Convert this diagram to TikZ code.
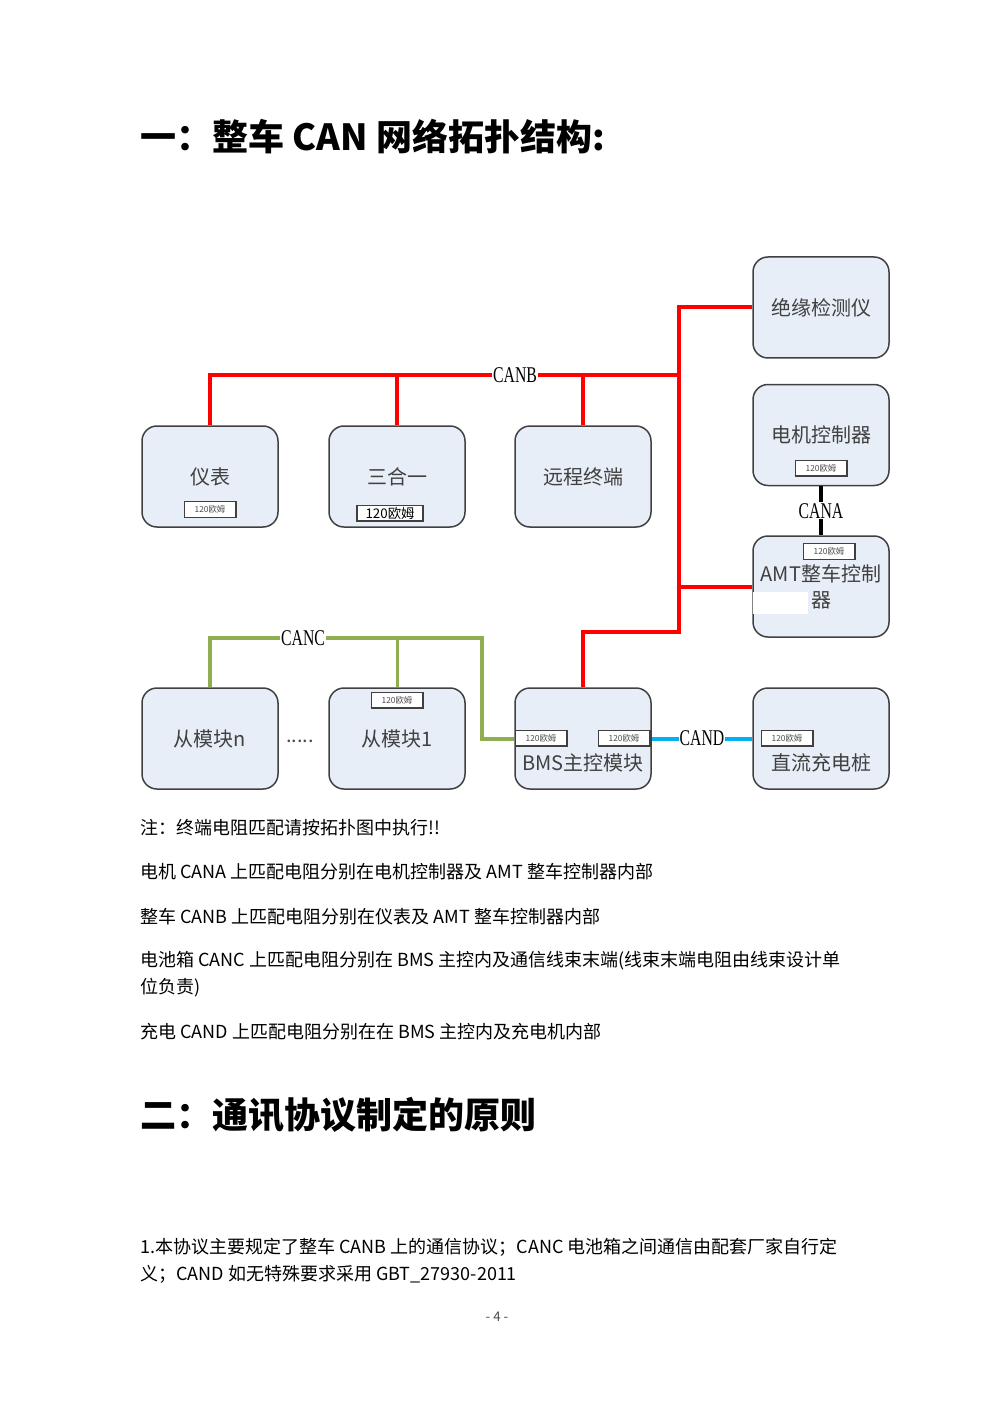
\documentclass[tikz,border=0pt]{standalone}
\usepackage{fontspec}
\setmainfont{Noto Sans CJK SC}
\newfontfamily\serifen{Liberation Serif}
\usetikzlibrary{positioning}
\definecolor{boxfill}{RGB}{232,238,248}
\definecolor{boxline}{RGB}{64,64,64}
\definecolor{canred}{RGB}{255,0,0}
\definecolor{cangreen}{RGB}{143,174,80}
\definecolor{canblue}{RGB}{0,176,240}
\newcommand{\canlbl}[1]{{\serifen\scalebox{0.7}[1]{#1}}}
\tikzset{
	ecu/.style={draw=boxline,line width=0.9pt,fill=boxfill,rounded corners=9pt,minimum width=81.6pt,minimum height=60.6pt,inner sep=0pt,text=black!75,font=\fontsize{12}{15.6}\selectfont,align=center},
	res/.style={draw=boxline,line width=0.8pt,fill=white,minimum width=31pt,minimum height=9.4pt,inner sep=0pt,font=\fontsize{5}{5}\selectfont,text=black!70},
	bus/.style={line width=2.4pt},
	buslbl/.style={fill=white,inner sep=0.6pt,text=black,font=\fontsize{13.5}{13.5}\selectfont},
	body/.style={anchor=west,inner sep=0pt,font=\fontsize{10.8}{12}\selectfont},
	head/.style={anchor=west,inner sep=0pt,font=\fontsize{21.6}{24}\selectfont\bfseries}
}
\begin{document}
\begin{tikzpicture}[x=0.6pt,y=-0.6pt]
	\useasboundingbox (0,0) rectangle (993,1403);
	\node[head] (title) at (140,137) {一：整车 CAN 网络拓扑结构:};
	% ECUs
	\node[ecu] (jyjc) at (821,307.5) {绝缘检测仪};
	\node[ecu] (djkz) at (821,435) {电机控制器};
	\node[ecu] (amt) at (821,586.5) {AMT整车控制\\器};
	\node[ecu] (yb) at (210,476.5) {仪表};
	\node[ecu] (shy) at (397,476.5) {三合一};
	\node[ecu] (ycz) at (583,476.5) {远程终端};
	\node[ecu] (czn) at (210,738.5) {从模块n};
	\node[ecu] (cz1) at (397,738.5) {从模块1};
	\node[ecu] (bms) at (583,738.5) {};
	\node[ecu] (zlcd) at (821,738.5) {};
	\node[text=black!75,font=\fontsize{12}{12}\selectfont] (bmstxt) at (583,763) {BMS主控模块};
	\node[text=black!75,font=\fontsize{12}{12}\selectfont] (zlcdtxt) at (821,763) {直流充电桩};
	\fill[white] (753,592) rectangle (808,614);
	\node[font=\fontsize{12}{12}\selectfont,text=black!70] (dots) at (300,741) {.....};
	% 120 ohm
	\node[res] (ybres) at (210,509.5) {120欧姆};
	\node[res,minimum width=39.6pt,font=\fontsize{8}{8}\selectfont,text=black] (shyres) at (390,513) {120欧姆};
	\node[res] (djkzres) at (821,468) {120欧姆};
	\node[res] (amtres) at (829,551.5) {120欧姆};
	\node[res] (cz1res) at (397,700) {120欧姆};
	\node[res] (bmsresl) at (541,738) {120欧姆};
	\node[res] (bmsresr) at (624,738) {120欧姆};
	\node[res] (zlcdres) at (787,738) {120欧姆};
	% CANB
	\coordinate (bR) at (679,375);
	\coordinate (trunk) at (679,632);
	\coordinate (cTop) at (482,638);
	\draw[bus,canred] (yb.north) |- (bR);
	\draw[bus,canred] (shy.north) -- (shy.north |- bR);
	\draw[bus,canred] (ycz.north) -- (ycz.north |- bR);
	\draw[bus,canred] (jyjc.west) -| (trunk) -| (bms.north);
	\draw[bus,canred] (amt.west) -- (amt.west -| trunk);
	\node[buslbl] (canb) at (515,375) {\canlbl{CANB}};
	% CANA
	\draw[bus,black] (djkz.south) -- node[buslbl] (cana) {\canlbl{CANA}} (amt.north);
	% CANC
	\draw[bus,cangreen] (czn.north) |- (cTop) |- (bms.west);
	\draw[cangreen,line width=1.8pt] (cz1.north) -- (cz1.north |- cTop);
	\node[buslbl] (canc) at (303,638) {\canlbl{CANC}};
	% CAND
	\draw[bus,canblue] (bms.east) -- node[buslbl] (cand) {\canlbl{CAND}} (zlcd.west);
	% notes
	\node[body] (n1) at (140,828) {注：终端电阻匹配请按拓扑图中执行!!};
	\node[body] (n2) at (140,872) {电机 CANA 上匹配电阻分别在电机控制器及 AMT 整车控制器内部};
	\node[body] (n3) at (140,917) {整车 CANB 上匹配电阻分别在仪表及 AMT 整车控制器内部};
	\node[body] (n4) at (140,961) {电池箱 CANC 上匹配电阻分别在 BMS 主控内及通信线束末端(线束末端电阻由线束设计单};
	\node[body] (n4b) at (140,988) {位负责)};
	\node[body] (n5) at (140,1032) {充电 CAND 上匹配电阻分别在在 BMS 主控内及充电机内部};
	\node[head] (title2) at (140,1115) {二：通讯协议制定的原则};
	\node[body] (p1) at (140,1247) {1.本协议主要规定了整车 CANB 上的通信协议；CANC 电池箱之间通信由配套厂家自行定};
	\node[body] (p1b) at (140,1274) {义；CAND 如无特殊要求采用 GBT\_27930-2011};
	\node[font=\fontsize{8}{8}\selectfont,text=black!70] (page) at (497,1317) {- 4 -};
\end{tikzpicture}
\end{document}
